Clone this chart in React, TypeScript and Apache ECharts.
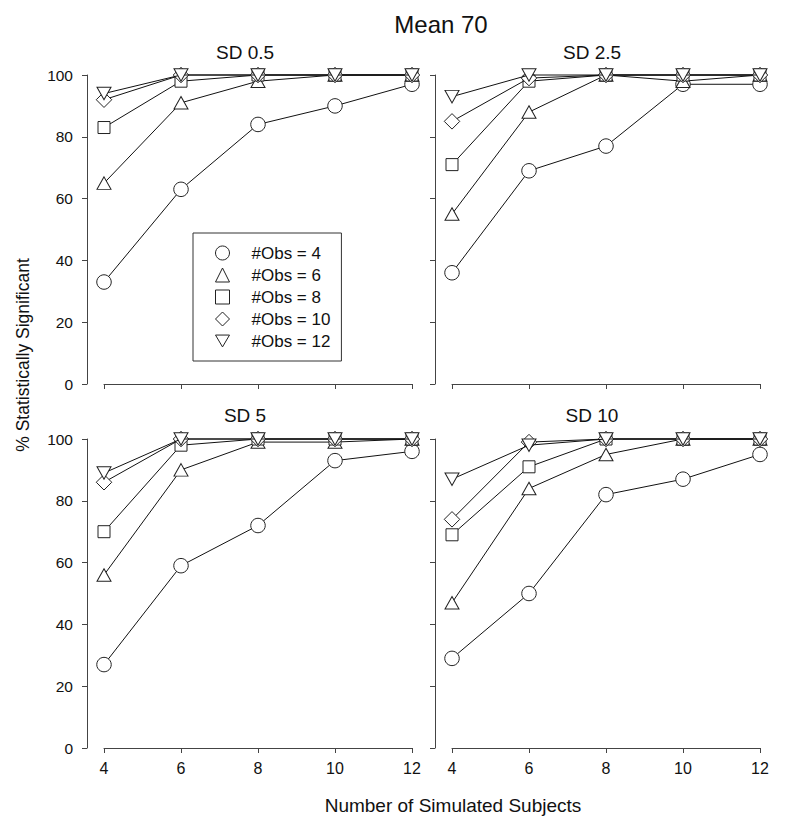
import React, { useEffect, useRef } from "react";
import * as echarts from "echarts";

// ---- data ----
const subjects = [4, 6, 8, 10, 12];
const obsLabels = ["#Obs = 4", "#Obs = 6", "#Obs = 8", "#Obs = 10", "#Obs = 12"];
const panelTitles = ["SD 0.5", "SD 2.5", "SD 5", "SD 10"];
const yTickStep = 20;

// SD 0.5
const sd05Obs4 = [33, 63, 84, 90, 97];
const sd05Obs6 = [65, 91, 98, 100, 100];
const sd05Obs8 = [83, 98, 100, 100, 100];
const sd05Obs10 = [92, 100, 100, 100, 100];
const sd05Obs12 = [94, 100, 100, 100, 100];

// SD 2.5
const sd25Obs4 = [36, 69, 77, 97, 97];
const sd25Obs6 = [55, 88, 100, 98, 100];
const sd25Obs8 = [71, 98, 100, 100, 100];
const sd25Obs10 = [85, 99, 100, 100, 100];
const sd25Obs12 = [93, 100, 100, 100, 100];

// SD 5
const sd5Obs4 = [27, 59, 72, 93, 96];
const sd5Obs6 = [56, 90, 99, 99, 100];
const sd5Obs8 = [70, 98, 100, 100, 100];
const sd5Obs10 = [86, 100, 100, 100, 100];
const sd5Obs12 = [89, 100, 100, 100, 100];

// SD 10
const sd10Obs4 = [29, 50, 82, 87, 95];
const sd10Obs6 = [47, 84, 95, 100, 100];
const sd10Obs8 = [69, 91, 100, 100, 100];
const sd10Obs10 = [74, 99, 100, 100, 100];
const sd10Obs12 = [87, 98, 100, 100, 100];

const panelData = [
  [sd05Obs4, sd05Obs6, sd05Obs8, sd05Obs10, sd05Obs12],
  [sd25Obs4, sd25Obs6, sd25Obs8, sd25Obs10, sd25Obs12],
  [sd5Obs4, sd5Obs6, sd5Obs8, sd5Obs10, sd5Obs12],
  [sd10Obs4, sd10Obs6, sd10Obs8, sd10Obs10, sd10Obs12],
];

// ---- styling ----
const FONT = "Liberation Sans, Arial, Helvetica, sans-serif";
const TEXT = "#111";
const AXIS = "#444";
const downTri = "path://M0,0L20,0L10,17Z";
const symbols = ["circle", "triangle", "rect", "diamond", downTri];
const symbolSizes: any[] = [14.5, [14, 12.5], 12, 15.5, [14, 12.5]];

const grids = [
  { left: 104, top: 75, width: 308, height: 309 },
  { left: 452, top: 75, width: 308, height: 309 },
  { left: 104, top: 439, width: 308, height: 309 },
  { left: 452, top: 439, width: 308, height: 309 },
];
const titlePos = [
  [245, 52],
  [592, 52],
  [245, 415],
  [592, 415],
];

export default function App() {
  const ref = useRef<HTMLDivElement>(null);

  useEffect(() => {
    document.body.style.margin = "0";
    if (!ref.current) return;
    const chart = echarts.init(ref.current, null, { renderer: "svg" });

    const xAxis = grids.map((_, i) => ({
      gridIndex: i,
      type: "value",
      min: 4,
      max: 12,
      interval: 2,
      axisLine: { show: true, onZero: false, lineStyle: { color: AXIS, width: 1 } },
      axisTick: { show: true, length: 5, lineStyle: { color: AXIS, width: 1 } },
      axisLabel: {
        show: i >= 2,
        fontSize: 16,
        color: TEXT,
        fontFamily: FONT,
        margin: 12,
      },
      splitLine: { show: false },
    }));

    const yAxis = grids.map((_, i) => ({
      gridIndex: i,
      type: "value",
      min: 0,
      max: 100,
      interval: yTickStep,
      position: "left",
      offset: 17,
      axisLine: { show: true, lineStyle: { color: AXIS, width: 1 } },
      axisTick: { show: true, length: 5, lineStyle: { color: AXIS, width: 1 } },
      axisLabel: {
        show: i % 2 === 0,
        fontSize: 15.5,
        color: TEXT,
        fontFamily: FONT,
        margin: 14,
      },
      splitLine: { show: false },
    }));

    const series: any[] = [];
    panelData.forEach((panel, p) => {
      panel.forEach((vals, k) => {
        series.push({
          type: "line",
          name: obsLabels[k],
          xAxisIndex: p,
          yAxisIndex: p,
          data: subjects.map((s, j) => [s, vals[j]]),
          symbol: symbols[k],
          symbolSize: symbolSizes[k],
          showAllSymbol: true,
          clip: false,
          lineStyle: { color: "#111", width: 1 },
          itemStyle: { color: "#fff", borderColor: "#222", borderWidth: 1 },
          emphasis: { disabled: true },
          z: 2 + k,
        });
      });
    });

    const graphic: any[] = [
      {
        type: "text",
        x: 441,
        y: 24,
        style: {
          text: "Mean 70",
          fontSize: 24,
          fontFamily: FONT,
          fill: TEXT,
          textAlign: "center",
          textVerticalAlign: "middle",
        },
      },
      ...panelTitles.map((t, i) => ({
        type: "text",
        x: titlePos[i][0],
        y: titlePos[i][1],
        style: {
          text: t,
          fontSize: 19,
          fontFamily: FONT,
          fill: TEXT,
          textAlign: "center",
          textVerticalAlign: "middle",
        },
      })),
      {
        type: "text",
        x: 453,
        y: 805,
        style: {
          text: "Number of Simulated Subjects",
          fontSize: 19,
          fontFamily: FONT,
          fill: TEXT,
          textAlign: "center",
          textVerticalAlign: "middle",
        },
      },
      {
        type: "text",
        x: 23,
        y: 355,
        rotation: Math.PI / 2,
        style: {
          text: "% Statistically Significant",
          fontSize: 17.5,
          fontFamily: FONT,
          fill: TEXT,
          textAlign: "center",
          textVerticalAlign: "middle",
        },
      },
    ];

    chart.setOption({
      animation: false,
      backgroundColor: "#fff",
      grid: grids.map((g) => ({ ...g, containLabel: false })),
      xAxis,
      yAxis,
      series,
      graphic,
      legend: {
        show: true,
        orient: "vertical",
        left: 193,
        top: 233,
        padding: [11.5, 11, 11.5, 22],
        itemWidth: 14,
        itemHeight: 14,
        itemGap: 5,
        borderColor: "#333",
        borderWidth: 1,
        backgroundColor: "#fff",
        selectedMode: false,
        data: obsLabels.map((n, k) => ({ name: n, icon: symbols[k] })),
        itemStyle: { color: "#fff", borderColor: "#222", borderWidth: 1 },
        textStyle: {
          fontSize: 17,
          fontFamily: FONT,
          color: TEXT,
          padding: [0, 0, 0, 17],
        },
      },
    });

    return () => chart.dispose();
  }, []);

  return <div ref={ref} style={{ width: 785, height: 826 }} />;
}
